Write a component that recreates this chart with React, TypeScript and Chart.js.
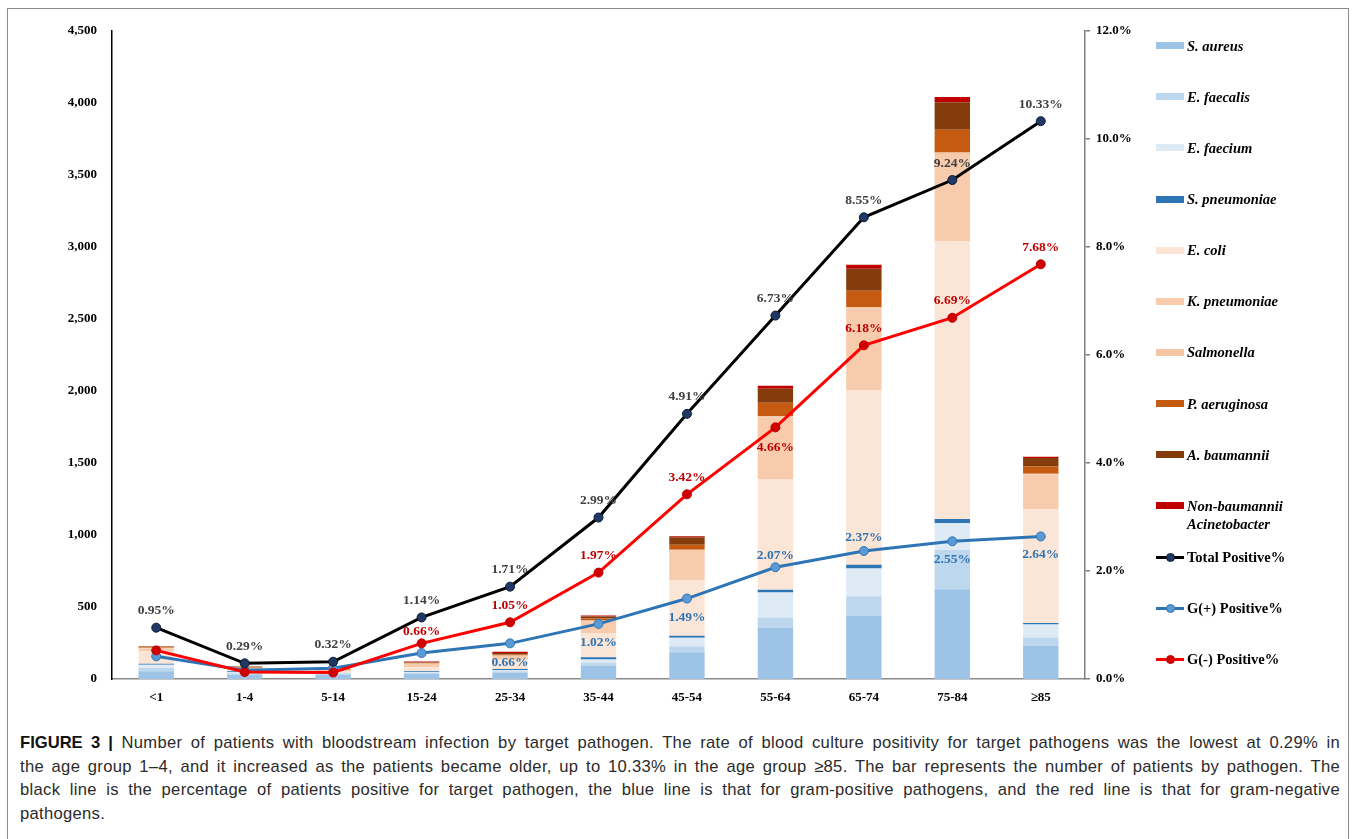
import React, { useEffect, useRef } from 'react';
import { Chart, registerables } from 'chart.js';

Chart.register(...registerables);

// ---------- DATA ----------
const ageGroups = ['<1', '1-4', '5-14', '15-24', '25-34', '35-44', '45-54', '55-64', '65-74', '75-84', '≥85'];

const sAureus = [53, 30, 30, 37, 46, 93, 185, 358, 440, 623, 233];
const eFaecalis = [23, 10, 6, 6, 7, 19, 42, 69, 134, 273, 56];
const eFaecium = [23, 8, 4, 6, 9, 23, 60, 174, 194, 185, 90];
const sPneumoniae = [7, 5, 2, 5, 7, 16, 14, 19, 26, 30, 10];
const eColi = [85, 14, 14, 30, 65, 169, 384, 769, 1210, 1928, 792];
const kPneumoniae = [21, 8, 6, 20, 27, 81, 205, 425, 567, 606, 240];
const salmonella = [5, 3, 2, 3, 3, 5, 8, 10, 12, 12, 5];
const pAeruginosa = [7, 5, 3, 5, 7, 14, 35, 95, 113, 158, 49];
const aBaumannii = [3, 4, 3, 4, 9, 14, 51, 97, 153, 190, 60];
const nonBaumannii = [0, 0, 0, 5, 9, 7, 7, 21, 28, 37, 9];

const totalPositivePct = [0.95, 0.29, 0.32, 1.14, 1.71, 2.99, 4.91, 6.73, 8.55, 9.24, 10.33];
const gPosPositivePct = [0.42, 0.16, 0.20, 0.48, 0.66, 1.02, 1.49, 2.07, 2.37, 2.55, 2.64];
const gNegPositivePct = [0.53, 0.13, 0.12, 0.66, 1.05, 1.97, 3.42, 4.66, 6.18, 6.69, 7.68];

const countTicks = [0, 500, 1000, 1500, 2000, 2500, 3000, 3500, 4000, 4500];
const pctTicks = [0, 2, 4, 6, 8, 10, 12];

// ---------- STYLE / LABEL PLACEMENT ----------
const totalLabelOffsets = [-17, -17, -17, -17, -17, -17, -17, -17, -17, -17, -17];
const gPosLabelOffsets = [null, null, null, null, 19, 19, 19, -12, -14, 18, 18];
const gNegLabelOffsets = [null, null, null, -12, -17, -17, -17, 20, -17, -17, -17];

const barSeries = [
  { name: 'S. aureus', data: sAureus, color: '#9DC3E6' },
  { name: 'E. faecalis', data: eFaecalis, color: '#BDD7EE' },
  { name: 'E. faecium', data: eFaecium, color: '#DEEBF7' },
  { name: 'S. pneumoniae', data: sPneumoniae, color: '#2E75B6' },
  { name: 'E. coli', data: eColi, color: '#FBE5D6' },
  { name: 'K. pneumoniae', data: kPneumoniae, color: '#F8CBAD' },
  { name: 'Salmonella', data: salmonella, color: '#F6C5A3' },
  { name: 'P. aeruginosa', data: pAeruginosa, color: '#C55A11' },
  { name: 'A. baumannii', data: aBaumannii, color: '#843C0C' },
  { name: 'Non-baumannii\nAcinetobacter', data: nonBaumannii, color: '#C00000' },
];

const lineSeries = [
  { name: 'Total Positive%', data: totalPositivePct, line: '#000000', fill: '#1F3864', border: '#0d1a33', labelColor: '#404040', offsets: totalLabelOffsets, order: 1 },
  { name: 'G(+) Positive%', data: gPosPositivePct, line: '#2E75B6', fill: '#5B9BD5', border: '#2E75B6', labelColor: '#2E75B6', offsets: gPosLabelOffsets, order: 3 },
  { name: 'G(-) Positive%', data: gNegPositivePct, line: '#FF0000', fill: '#D00000', border: '#C00000', labelColor: '#C00000', offsets: gNegLabelOffsets, order: 2 },
];

const SERIF = '"Liberation Serif", "Times New Roman", serif';

const labelPlugin = {
  id: 'pctLabels',
  afterDatasetsDraw(chart: any) {
    const ctx = chart.ctx;
    chart.data.datasets.forEach((ds: any, i: number) => {
      if (!ds.labelOffsets) return;
      const meta = chart.getDatasetMeta(i);
      ctx.save();
      ctx.font = 'bold 13.5px ' + SERIF;
      ctx.fillStyle = ds.labelColor;
      ctx.textAlign = 'center';
      ctx.textBaseline = 'middle';
      meta.data.forEach((pt: any, j: number) => {
        const o = ds.labelOffsets[j];
        if (o === null || o === undefined) return;
        ctx.fillText(Number(ds.data[j]).toFixed(2) + '%', pt.x, pt.y + o);
      });
      ctx.restore();
    });
  },
};

function ChartCanvas() {
  const ref = useRef<HTMLCanvasElement | null>(null);
  useEffect(() => {
    if (!ref.current) return;
    const datasets: any[] = [];
    lineSeries.forEach((s) => {
      datasets.push({
        type: 'line',
        label: s.name,
        data: s.data,
        yAxisID: 'y1',
        borderColor: s.line,
        borderWidth: 3,
        backgroundColor: s.fill,
        pointBackgroundColor: s.fill,
        pointBorderColor: s.border,
        pointBorderWidth: 1,
        pointRadius: 4.5,
        tension: 0,
        order: s.order,
        labelOffsets: s.offsets,
        labelColor: s.labelColor,
      });
    });
    barSeries.forEach((s) => {
      datasets.push({
        type: 'bar',
        label: s.name,
        data: s.data,
        yAxisID: 'y',
        backgroundColor: s.color,
        borderWidth: 0,
        barPercentage: 0.4,
        categoryPercentage: 1,
        stack: 'pathogens',
        order: 10,
      });
    });

    const chart = new Chart(ref.current, {
      type: 'bar',
      data: { labels: ageGroups, datasets },
      options: {
        responsive: false,
        animation: false,
        maintainAspectRatio: false,
        layout: { padding: { left: 0, top: 31, right: 203, bottom: 1 } },
        plugins: { legend: { display: false }, tooltip: { enabled: false }, title: { display: false } },
        scales: {
          x: {
            stacked: true,
            grid: { display: false, drawTicks: false },
            border: { display: true, color: '#8a8a8a', width: 1.5 },
            ticks: { color: '#000', font: { family: SERIF, size: 13, weight: 'bold' }, padding: 11 },
            afterFit: (scale: any) => { scale.height = 40; },
          },
          y: {
            stacked: true,
            position: 'left',
            min: 0,
            max: 4500,
            afterBuildTicks: (scale: any) => { scale.ticks = countTicks.map((v) => ({ value: v })); },
            grid: { display: false, drawTicks: false },
            border: { display: true, color: '#000', width: 1.5 },
            ticks: {
              color: '#000',
              font: { family: SERIF, size: 13, weight: 'bold' },
              padding: 15,
              callback: (v: any) => Number(v).toLocaleString('en-US'),
            },
            afterFit: (scale: any) => { scale.width = 112; },
          },
          y1: {
            stacked: false,
            position: 'right',
            min: 0,
            max: 12,
            afterBuildTicks: (scale: any) => { scale.ticks = pctTicks.map((v) => ({ value: v })); },
            grid: { display: true, drawOnChartArea: false, drawTicks: true, tickLength: 5, color: '#7f7f7f', lineWidth: 1.5 },
            border: { display: true, color: '#7f7f7f', width: 1.5 },
            ticks: {
              color: '#000',
              font: { family: SERIF, size: 13, weight: 'bold' },
              padding: 6,
              callback: (v: any) => Number(v).toFixed(1) + '%',
            },
            afterFit: (scale: any) => { scale.width = 70; },
          },
        },
      } as any,
      plugins: [labelPlugin],
    });
    return () => chart.destroy();
  }, []);
  return <canvas ref={ref} width={1358} height={720} style={{ position: 'absolute', left: 0, top: 0, width: 1358, height: 720 }} />;
}

function Legend() {
  const items: any[] = [
    ...barSeries.map((s) => ({ kind: 'bar', name: s.name, color: s.color })),
    ...lineSeries.map((s) => ({ kind: 'line', name: s.name, line: s.line, fill: s.fill, border: s.border })),
  ];
  return (
    <>
      {items.map((it, i) => {
        const c = 45.7 + i * 51.13;
        const lines = String(it.name).split('\n');
        return (
          <div
            key={i}
            style={{
              position: 'absolute',
              left: 1156,
              top: c - 9,
              display: 'flex',
              alignItems: 'flex-start',
              fontFamily: SERIF,
              fontWeight: 'bold',
              fontStyle: it.kind === 'bar' ? 'italic' : 'normal',
              fontSize: 14.5,
              lineHeight: '18px',
              color: '#000',
              whiteSpace: 'nowrap',
            }}
          >
            <div style={{ width: 28, height: 18, position: 'relative', flex: '0 0 28px' }}>
              {it.kind === 'bar' ? (
                <div style={{ position: 'absolute', left: 0, top: 5.5, width: 28, height: 7, background: it.color }} />
              ) : (
                <>
                  <div style={{ position: 'absolute', left: 0, top: 7.5, width: 28, height: 3, background: it.line }} />
                  <div
                    style={{
                      position: 'absolute',
                      left: 9.5,
                      top: 4.5,
                      width: 9,
                      height: 9,
                      boxSizing: 'border-box',
                      borderRadius: '50%',
                      background: it.fill,
                      border: '1px solid ' + it.border,
                    }}
                  />
                </>
              )}
            </div>
            <div style={{ marginLeft: 3 }}>
              {lines.map((l: string, k: number) => (
                <div key={k}>{l}</div>
              ))}
            </div>
          </div>
        );
      })}
    </>
  );
}

const captionLines = [
  'Number of patients with bloodstream infection by target pathogen. The rate of blood culture positivity for target pathogens was the lowest at 0.29% in',
  'the age group 1–4, and it increased as the patients became older, up to 10.33% in the age group ≥85. The bar represents the number of patients by pathogen. The',
  'black line is the percentage of patients positive for target pathogen, the blue line is that for gram-positive pathogens, and the red line is that for gram-negative',
  'pathogens.',
];

function Caption() {
  return (
    <div
      style={{
        position: 'absolute',
        left: 20,
        top: 731,
        width: 1320,
        fontFamily: '"Liberation Sans", Arial, sans-serif',
        fontSize: 16.6,
        lineHeight: '23.7px',
        letterSpacing: '0.3px',
        color: '#2b2b2b',
      }}
    >
      {captionLines.map((l, i) => (
        <div
          key={i}
          style={{
            whiteSpace: 'nowrap',
            textAlign: i < captionLines.length - 1 ? 'justify' : 'left',
            textAlignLast: i < captionLines.length - 1 ? 'justify' : 'left',
            width: 1320,
          }}
        >
          {i === 0 ? (
            <>
              <span style={{ fontWeight: 'bold', color: '#111', letterSpacing: '0px' }}>FIGURE 3 |</span> {l}
            </>
          ) : (
            l
          )}
        </div>
      ))}
    </div>
  );
}

export default function App() {
  return (
    <div style={{ position: 'absolute', left: 0, top: 0, width: 1358, height: 839, background: '#fff', overflow: 'hidden' }}>
      <div
        style={{
          position: 'absolute',
          left: 7,
          top: 8,
          width: 1342,
          height: 840,
          border: '1px solid #8c8c8c',
          boxSizing: 'border-box',
        }}
      />
      <ChartCanvas />
      <Legend />
      <Caption />
    </div>
  );
}
